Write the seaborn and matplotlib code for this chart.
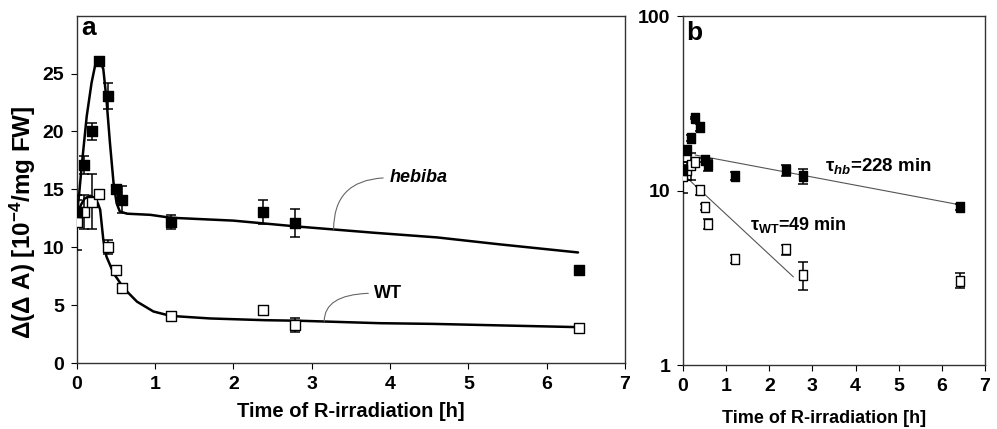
import seaborn as sns
import matplotlib.pyplot as plt
import pandas as pd

time_h = [0, 0.09, 0.19, 0.29, 0.40, 0.50, 0.58, 1.2, 2.38, 2.79, 6.41]
hebiba_mean = [13.05, 17.1, 20.0, 26.1, 23.05, 15.0, 14.1, 12.15, 13.05, 12.1, 8.05]
hebiba_err = [1.0, 0.8, 0.7, 0.3, 1.1, 0.4, 1.15, 0.6, 1.0, 1.2, 0.3]
wt_mean = [12.15, 13.05, 13.95, 14.6, 10.05, 8.05, 6.45, 4.05, 4.6, 3.3, 3.05]
wt_err = [2.4, 1.5, 2.4, 0.3, 0.6, 0.3, 0.4, 0.2, 0.3, 0.6, 0.3]

# fitted curves in panel a (traced)
hebiba_fit_t = [0, 0.03, 0.064, 0.128, 0.19, 0.234, 0.29, 0.34, 0.38, 0.425, 0.47,
                0.51, 0.55, 0.64, 0.94, 1.2, 2.0, 2.8, 3.8, 4.6, 5.4, 6.4]
hebiba_fit = [12.6, 14.5, 17.0, 21.3, 24.2, 25.65, 26.15, 25.4, 22.8, 19.0, 15.6,
              13.8, 13.1, 12.9, 12.8, 12.55, 12.3, 11.8, 11.25, 10.85, 10.25, 9.55]
wt_fit_t = [0, 0.05, 0.1, 0.17, 0.22, 0.27, 0.30, 0.34, 0.38, 0.47, 0.6, 0.77,
            0.98, 1.2, 1.7, 2.4, 2.85, 3.87, 4.55, 5.4, 6.4]
wt_fit = [12.6, 13.6, 14.2, 14.45, 14.3, 13.8, 13.25, 10.65, 9.2, 7.77, 6.47, 5.3,
          4.45, 4.07, 3.85, 3.7, 3.65, 3.44, 3.38, 3.25, 3.1]

# log-linear decay lines in panel b
hb_line_t = [0.28, 6.4]
hb_line = [16.0, 8.3]
wt_line_t = [0.05, 2.56]
wt_line = [12.1, 3.2]

sns.set_style("ticks")
plt.rcParams["font.family"] = ["Liberation Sans", "DejaVu Sans"]
plt.rcParams["font.weight"] = "bold"
plt.rcParams["text.color"] = "black"
plt.rcParams["axes.labelcolor"] = "black"
plt.rcParams["xtick.color"] = "black"
plt.rcParams["ytick.color"] = "black"
plt.rcParams["mathtext.fontset"] = "custom"
plt.rcParams["mathtext.rm"] = "Liberation Sans:bold"
plt.rcParams["mathtext.it"] = "Liberation Sans:bold:italic"
plt.rcParams["mathtext.bf"] = "Liberation Sans:bold"

df = pd.DataFrame({
    "time": time_h * 2,
    "value": hebiba_mean + wt_mean,
    "err": hebiba_err + wt_err,
    "line": ["hebiba"] * len(time_h) + ["WT"] * len(time_h),
})
face = {"hebiba": "black", "WT": "white"}

fig = plt.figure(figsize=(9.97, 4.29), dpi=100)
ax1 = fig.add_axes([0.0769, 0.1538, 0.55, 0.8096])
ax2 = fig.add_axes([0.685, 0.149, 0.303, 0.8135])


def draw_points(ax, marker, size):
    for name, sub in df.groupby("line"):
        ax.errorbar(sub["time"], sub["value"], yerr=sub["err"], fmt="none",
                    ecolor="black", elinewidth=1.1, capsize=3.8, capthick=1.1, zorder=3)
        sns.scatterplot(data=sub, x="time", y="value", ax=ax, marker=marker, s=size,
                        color=face[name], edgecolor="black", linewidth=1.0,
                        zorder=4, legend=False)


# panel a
sns.lineplot(x=hebiba_fit_t, y=hebiba_fit, ax=ax1, color="black", lw=1.8,
             sort=False, estimator=None)
sns.lineplot(x=wt_fit_t, y=wt_fit, ax=ax1, color="black", lw=1.8,
             sort=False, estimator=None)
draw_points(ax1, "s", 45)

ax1.annotate("hebiba", xy=(3.28, 11.55), xytext=(3.99, 16.0), fontsize=13,
             style="italic", fontweight="bold", va="center", ha="left",
             arrowprops=dict(arrowstyle="-", color="#666666", lw=0.8, relpos=(0, 0.5),
                             shrinkA=2, shrinkB=0,
                             connectionstyle="angle3,angleA=0,angleB=90"))
ax1.annotate("WT", xy=(3.16, 3.6), xytext=(3.80, 6.03), fontsize=13,
             fontweight="bold", va="center", ha="left",
             arrowprops=dict(arrowstyle="-", color="#666666", lw=0.8, relpos=(0, 0.5),
                             shrinkA=2, shrinkB=0,
                             connectionstyle="angle3,angleA=0,angleB=90"))

ax1.set_xlim(0, 7)
ax1.set_ylim(0, 30)
ax1.set_xticks(range(8))
ax1.set_yticks([0, 5, 10, 15, 20, 25])
ax1.set_xlabel("Time of R-irradiation [h]", fontsize=14.5, fontweight="bold", labelpad=7)
ax1.set_ylabel("Δ(Δ A) [10$^{-4}$/mg FW]", fontsize=17.5, fontweight="bold", labelpad=3)
ax1.yaxis.label.set_y(0.405)
ax1.text(0.008, 0.944, "a", transform=ax1.transAxes, fontsize=19, fontweight="bold",
         va="baseline", ha="left")

# panel b
sns.lineplot(x=hb_line_t, y=hb_line, ax=ax2, color="#555555", lw=0.8)
sns.lineplot(x=wt_line_t, y=wt_line, ax=ax2, color="#555555", lw=0.8)
rect = [(-0.37, -0.5), (0.37, -0.5), (0.37, 0.5), (-0.37, 0.5), (-0.37, -0.5)]
draw_points(ax2, rect, 50)

ax2.set_yscale("log")
ax2.set_xlim(0, 7)
ax2.set_ylim(1, 100)
ax2.set_xticks(range(8))
ax2.set_yticks([1, 10, 100])
ax2.set_yticklabels(["1", "10", "100"])
ax2.minorticks_off()
ax2.set_xlabel("Time of R-irradiation [h]", fontsize=13, fontweight="bold", labelpad=11)
ax2.xaxis.label.set_x(0.467)
ax2.set_ylabel("")
ax2.text(0.012, 0.931, "b", transform=ax2.transAxes, fontsize=19, fontweight="bold",
         va="baseline", ha="left")
ax2.text(3.29, 13.8, "τ$_{hb}$=228 min", fontsize=13.5, fontweight="bold",
         va="center", ha="left")
ax2.text(1.55, 6.37, "τ$_{\\mathrm{WT}}$=49 min", fontsize=13, fontweight="bold",
         va="center", ha="left")

for ax in (ax1, ax2):
    for side in ["top", "right", "bottom", "left"]:
        ax.spines[side].set_visible(True)
        ax.spines[side].set_color("#333333")
        ax.spines[side].set_linewidth(1.0)
    ax.tick_params(axis="both", labelsize=14, length=4, width=0.8, pad=5)
    for lab in ax.get_xticklabels() + ax.get_yticklabels():
        lab.set_fontweight("bold")

fig.savefig("out.png", dpi=100)
